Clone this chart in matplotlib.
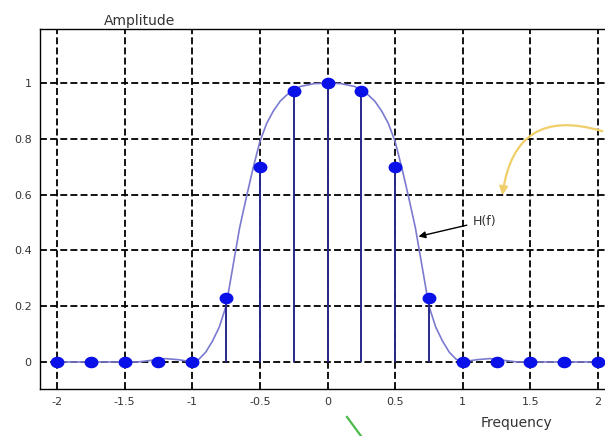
import numpy as np
import matplotlib
matplotlib.use("Agg")
import matplotlib.pyplot as plt
from matplotlib.path import Path
from matplotlib.patches import FancyArrowPatch

plt.rcParams['lines.scale_dashes'] = False

# sample points (stems)
sample_f = [-2, -1.75, -1.5, -1.25, -1, -0.75, -0.5, -0.25, 0,
            0.25, 0.5, 0.75, 1, 1.25, 1.5, 1.75, 2]
sample_h = [0, 0, 0, 0, 0, 0.23, 0.70, 0.97, 1.0,
            0.97, 0.70, 0.23, 0, 0, 0, 0, 0]

# continuous H(f) curve
curve_f = [-2.0, -1.4, -1.3, -1.2, -1.1, -1.0, -0.95, -0.9, -0.85, -0.8, -0.75,
           -0.7, -0.65, -0.6, -0.55, -0.5, -0.45, -0.4, -0.35, -0.3, -0.25,
           -0.2, -0.1, 0.0, 0.1, 0.2, 0.25, 0.3, 0.35, 0.4, 0.45, 0.5, 0.55,
           0.6, 0.65, 0.7, 0.75, 0.8, 0.85, 0.9, 0.95, 1.0, 1.1, 1.2, 1.3,
           1.4, 2.0]
curve_h = [0.0, 0.0, 0.006, 0.012, 0.008, 0.0, 0.01, 0.035, 0.075, 0.125, 0.2,
           0.34, 0.48, 0.59, 0.695, 0.79, 0.855, 0.90, 0.935, 0.958, 0.975,
           0.988, 0.998, 1.0, 0.998, 0.988, 0.975, 0.958, 0.935, 0.90, 0.855,
           0.79, 0.695, 0.59, 0.48, 0.34, 0.2, 0.125, 0.075, 0.035, 0.01,
           0.0, 0.008, 0.012, 0.006, 0.0, 0.0]

x_ticks = [-2, -1.5, -1, -0.5, 0, 0.5, 1, 1.5, 2]
x_labels = ['-2', '-1.5', '-1', '-0.5', '0', '0.5', '1', '1.5', '2']
y_ticks = [0, 0.2, 0.4, 0.6, 0.8, 1.0]
y_labels = ['0', '0.2', '0.4', '0.6', '0.8', '1']

fig = plt.figure(figsize=(6.05, 4.36), dpi=100)
fig.patch.set_facecolor('white')
W, H = 605, 436
left, right, top, bottom = 40, 615, 29, 389
ax = fig.add_axes([left / W, 1 - bottom / H, (right - left) / W, (bottom - top) / H])
ax.set_xlim(-2.125, 2.125)
ax.set_ylim(-0.097, 1.194)

ax.grid(True, color='black', linestyle='--', dashes=(5, 2.3), linewidth=1.3)
ax.set_axisbelow(True)

ax.plot(curve_f, curve_h, color='#7a7ad0', linewidth=1.2, zorder=3)

ax.vlines(sample_f, 0, sample_h, color='#28288a', linewidth=1.4, zorder=4)

t = np.linspace(0, 2 * np.pi, 40)
ell = Path(np.column_stack([1.2 * np.cos(t), np.sin(t)]))
ax.plot(sample_f, sample_h, linestyle='none', marker=ell, markersize=10,
        color='#0a10e8', markeredgewidth=0, zorder=5)

ax.set_xticks(x_ticks)
ax.set_xticklabels(x_labels)
ax.set_yticks(y_ticks)
ax.set_yticklabels(y_labels)
ax.tick_params(length=0, labelsize=8, labelcolor='#333333', pad=6)
for s in ax.spines.values():
    s.set_color('black')
    s.set_linewidth(1.0)

fig.text(140 / W, 1 - 21 / H, 'Amplitude', fontsize=10, color='#333333',
         ha='center', va='center')
fig.text(517 / W, 1 - 423 / H, 'Frequency', fontsize=10, color='#333333',
         ha='center', va='center')

ax.annotate('H(f)', xy=(0.673, 0.45), xytext=(1.07, 0.505),
            fontsize=9, color='#333333', va='center', ha='left',
            arrowprops=dict(arrowstyle='-|>', color='black', lw=1.0,
                            shrinkA=2, shrinkB=0, mutation_scale=10))

# decorative marks present on the picture
yel = FancyArrowPatch(posA=(605 / W, 1 - 132 / H), posB=(502 / W, 1 - 198 / H),
                      connectionstyle='arc3,rad=0.6', arrowstyle='-|>',
                      mutation_scale=12, color='#f0cf6a', lw=1.6,
                      transform=fig.transFigure)
fig.patches.append(yel)
fig.add_artist(plt.Line2D([347 / W, 361 / W], [1 - 417 / H, 1 - 436 / H],
                          color='#4cbb4c', lw=1.6, transform=fig.transFigure))

fig.savefig('out.png', dpi=100)
